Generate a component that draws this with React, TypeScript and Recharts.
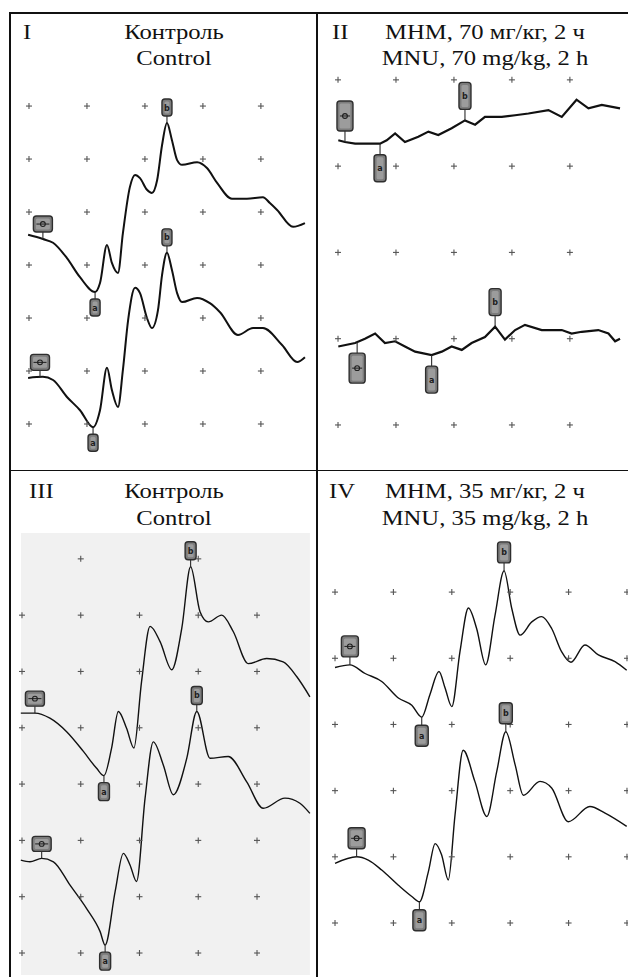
import { ComposedChart, Line, Scatter, XAxis, YAxis, ReferenceArea } from "recharts";

type Pt = [number, number];
type Mark = { t: number; v: number; label: "0" | "a" | "b"; side: "up" | "down" };

// time in ms (20 ms per grid step), amplitude in µV
const p1Upper: Pt[] = [
  [-0.3, 357], [4.8, 349], [8.3, 342], [13.1, 313], [17.6, 277], [22.8, 249], [24.5, 266], [26.9, 338],
  [28.6, 304], [30.7, 285], [32.4, 360], [34.8, 447], [36.6, 470], [38.3, 464], [40.7, 442], [42.4, 436],
  [44.2, 460], [45.9, 526], [47.6, 568], [49.3, 536], [51.1, 498], [52.8, 489], [58.0, 494], [61.4, 483],
  [64.9, 455], [70.0, 425], [75.2, 425], [80.7, 428], [83.1, 417], [85.6, 404], [91.1, 372], [95.2, 379],
];
const p1Lower: Pt[] = [
  [-0.3, 87], [4.8, 89], [8.3, 83], [13.1, 51], [17.6, 26], [22.1, -6], [24.5, 26], [26.9, 106],
  [28.6, 64], [30.7, 32], [32.4, 102], [34.2, 196], [36.6, 257], [38.3, 247], [40.7, 200], [42.4, 181],
  [44.5, 215], [45.9, 281], [47.6, 323], [49.3, 291], [51.1, 247], [52.8, 230], [58.0, 238], [62.4, 228],
  [65.9, 211], [72.1, 168], [77.3, 181], [80.7, 181], [87.3, 149], [92.5, 117], [95.2, 126],
];
const p2Upper: Pt[] = [
  [0.1, 330], [2.4, 328], [5.9, 326], [9.3, 326], [14.5, 326], [16.8, 330], [19.7, 338], [23.1, 328],
  [27.7, 334], [31.2, 340], [34.6, 336], [39.2, 344], [43.8, 353], [47.3, 348], [50.7, 357], [56.5, 357],
  [61.1, 359], [65.7, 361], [72.6, 365], [77.2, 357], [82.3, 377], [86.4, 367], [91.0, 371], [97.3, 367],
];
const p2Lower: Pt[] = [
  [0.1, 91], [5.9, 95], [9.3, 100], [12.8, 106], [16.2, 95], [19.7, 97], [23.1, 91], [26.6, 85],
  [32.3, 81], [35.8, 85], [39.2, 91], [42.7, 87], [46.1, 95], [50.7, 102], [54.2, 114], [57.6, 99],
  [61.1, 110], [64.5, 116], [70.3, 110], [77.2, 110], [80.6, 106], [84.1, 108], [89.8, 110], [93.3, 106],
  [95.6, 97], [97.3, 100],
];
const p3Upper: Pt[] = [
  [-0.4, 426], [4.4, 426], [9.5, 417], [15.2, 393], [20.9, 358], [25.4, 328], [27.9, 315], [30.5, 364],
  [32.8, 429], [35.6, 399], [38.1, 364], [40.7, 482], [43.6, 580], [47.0, 553], [51.0, 503], [54.4, 577],
  [57.4, 686], [60.6, 606], [63.4, 588], [68.0, 600], [71.9, 571], [77.0, 514], [83.3, 523], [88.9, 517],
  [93.5, 491], [98.0, 455],
];
const p3Lower: Pt[] = [
  [-0.4, 165], [2.7, 162], [6.7, 168], [10.7, 162], [16.3, 121], [22.0, 79], [26.6, 38], [28.3, 14],
  [31.7, 109], [34.5, 177], [36.8, 156], [39.0, 127], [41.9, 275], [44.7, 375], [48.1, 334], [51.5, 281],
  [56.1, 346], [59.5, 429], [64.0, 346], [70.2, 349], [76.5, 304], [82.1, 257], [89.5, 275], [94.6, 266],
  [98.0, 248],
];
const p4Upper: Pt[] = [
  [0, 386], [5.1, 390], [10.3, 377], [16.0, 365], [21.7, 340], [26.3, 329], [29.7, 311], [32.5, 345],
  [35.6, 380], [37.7, 355], [40.0, 327], [42.8, 410], [45.7, 476], [48.5, 445], [51.6, 390], [54.8, 465],
  [57.9, 532], [60.5, 476], [63.4, 435], [67.4, 455], [70.8, 463], [74.2, 445], [77.6, 410], [80.8, 394],
  [85.6, 420], [90.2, 405], [95.9, 395], [99.9, 382],
];
const p4Lower: Pt[] = [
  [0, 90], [7.4, 100], [11.4, 95], [16.0, 80], [21.7, 57], [26.3, 40], [28.9, 32], [32.0, 78],
  [34.3, 120], [36.5, 103], [38.8, 65], [41.1, 163], [43.9, 261], [47.9, 214], [52.0, 161], [55.4, 229],
  [58.5, 289], [61.7, 239], [64.5, 193], [70.2, 214], [74.2, 204], [79.9, 153], [87.3, 176], [92.5, 166],
  [99.9, 146],
];

const p1Marks: Mark[] = [
  { t: 4.8, v: 349, label: "0", side: "up" },
  { t: 22.8, v: 249, label: "a", side: "down" },
  { t: 47.6, v: 568, label: "b", side: "up" },
  { t: 3.8, v: 88, label: "0", side: "up" },
  { t: 22.1, v: -6, label: "a", side: "down" },
  { t: 47.6, v: 323, label: "b", side: "up" },
];
const p2Marks: Mark[] = [
  { t: 2.4, v: 328, label: "0", side: "up" },
  { t: 14.5, v: 326, label: "a", side: "down" },
  { t: 43.8, v: 353, label: "b", side: "up" },
  { t: 6.6, v: 96, label: "0", side: "down" },
  { t: 32.3, v: 81, label: "a", side: "down" },
  { t: 54.2, v: 114, label: "b", side: "up" },
];
const p3Marks: Mark[] = [
  { t: 4.4, v: 426, label: "0", side: "up" },
  { t: 27.9, v: 315, label: "a", side: "down" },
  { t: 57.4, v: 686, label: "b", side: "up" },
  { t: 6.7, v: 168, label: "0", side: "up" },
  { t: 28.3, v: 14, label: "a", side: "down" },
  { t: 59.5, v: 429, label: "b", side: "up" },
];
const p4Marks: Mark[] = [
  { t: 5.1, v: 390, label: "0", side: "up" },
  { t: 29.7, v: 311, label: "a", side: "down" },
  { t: 57.9, v: 532, label: "b", side: "up" },
  { t: 7.4, v: 100, label: "0", side: "up" },
  { t: 28.9, v: 32, label: "a", side: "down" },
  { t: 58.5, v: 289, label: "b", side: "up" },
];

// grid "+" positions
const p1Cols = [0, 20, 40, 60, 80];
const p1Rows = [0, 100, 200, 300, 400, 500, 600];
const p2Cols = [0, 20, 40, 60, 80];
const p2Rows = [0, 100, 200, 300, 400];
const p3Cols = [0, 20, 40, 60, 80];
const p3Rows = [0, 100, 200, 300, 400, 500, 600];
const p3TopRow = [[20, 700], [60, 700]];
const p4Cols = [0, 20, 40, 60, 80, 100];
const p4Rows = [0, 100, 200, 300, 400, 500];

const titles = {
  ctrlRu: "Контроль",
  ctrlEn: "Control",
  mnu70Ru: "МНМ, 70 мг/кг, 2 ч",
  mnu70En: "MNU, 70 mg/kg, 2 h",
  mnu35Ru: "МНМ, 35 мг/кг, 2 ч",
  mnu35En: "MNU, 35 mg/kg, 2 h",
};

const toRows = (pts: Pt[] | number[][]) => pts.map(([t, v]) => ({ t, v }));
const grid = (cols: number[], rows: number[]) => rows.flatMap((v) => cols.map((t) => ({ t, v })));

type MarkSize = { w: number; h: number; w0: number; h0: number; stem: number };

const makeMarker = (ms: MarkSize) => (props: any) => {
  const { cx, cy, payload } = props;
  if (cx == null || cy == null) return null;
  const zero = payload.label === "0";
  const w = zero ? ms.w0 : ms.w;
  const h = zero ? ms.h0 : ms.h;
  const up = payload.side === "up";
  const stemEnd = up ? cy - ms.stem : cy + ms.stem;
  const y0 = up ? stemEnd - h : stemEnd;
  const my = y0 + h / 2;
  return (
    <g>
      <line x1={cx} y1={cy} x2={cx} y2={stemEnd} stroke="#2a2a2a" strokeWidth={1.1} />
      <rect x={cx - w / 2} y={y0} width={w} height={h} rx={3} fill="#7c7c7c" stroke="#2e2e2e" strokeWidth={1.4} />
      <rect x={cx - w / 2 + 2.5} y={y0 + 2.5} width={w - 5} height={h - 5} rx={1.5} fill="#9c9c9c" />
      {zero ? (
        <g>
          <circle cx={cx} cy={my} r={2.4} fill="none" stroke="#1e1e1e" strokeWidth={1.1} />
          <line x1={cx - w / 2 + 3} y1={my} x2={cx + w / 2 - 3} y2={my} stroke="#1e1e1e" strokeWidth={1} />
        </g>
      ) : (
        <text x={cx} y={my + 3} fontSize={8} fontWeight="bold" textAnchor="middle" fill="#1e1e1e" fontFamily="DejaVu Sans">
          {payload.label}
        </text>
      )}
    </g>
  );
};

const Plus = (props: any) => {
  const { cx, cy } = props;
  if (cx == null || cy == null) return null;
  return (
    <g stroke="#555" strokeWidth={1.1}>
      <line x1={cx - 3} y1={cy} x2={cx + 3} y2={cy} />
      <line x1={cx} y1={cy - 3} x2={cx} y2={cy + 3} />
    </g>
  );
};

type PanelCfg = {
  left: number;
  top: number;
  width: number;
  height: number;
  xDomain: [number, number];
  yDomain: [number, number];
  traces: Pt[][];
  marks: Mark[];
  grid: { t: number; v: number }[];
  curve: "monotone" | "linear";
  strokeWidth: number;
  markSize: MarkSize;
  shade?: { x1: number; x2: number; y1: number; y2: number };
};

function Panel({ cfg }: { cfg: PanelCfg }) {
  return (
    <div style={{ position: "absolute", left: cfg.left, top: cfg.top }}>
      <ComposedChart width={cfg.width} height={cfg.height} margin={{ top: 0, right: 0, bottom: 0, left: 0 }}>
        <XAxis type="number" dataKey="t" domain={cfg.xDomain} hide allowDataOverflow />
        <YAxis type="number" dataKey="v" domain={cfg.yDomain} hide allowDataOverflow />
        {cfg.shade && (
          <ReferenceArea
            x1={cfg.shade.x1}
            x2={cfg.shade.x2}
            y1={cfg.shade.y1}
            y2={cfg.shade.y2}
            fill="#f1f1f1"
            fillOpacity={1}
            stroke="none"
            ifOverflow="visible"
          />
        )}
        <Scatter data={cfg.grid} shape={Plus} isAnimationActive={false} />
        {cfg.traces.map((tr, i) => (
          <Line
            key={i}
            data={toRows(tr)}
            dataKey="v"
            type={cfg.curve}
            stroke="#111"
            strokeWidth={cfg.strokeWidth}
            dot={false}
            isAnimationActive={false}
          />
        ))}
        <Scatter data={cfg.marks} shape={makeMarker(cfg.markSize)} isAnimationActive={false} />
      </ComposedChart>
    </div>
  );
}

const panels: PanelCfg[] = [
  {
    left: 10, top: 13, width: 307, height: 457,
    xDomain: [-6.55, 99.36], yDomain: [-86.8, 775.6],
    traces: [p1Upper, p1Lower], marks: p1Marks, grid: grid(p1Cols, p1Rows),
    curve: "monotone", strokeWidth: 2,
    markSize: { w: 10, h: 17, w0: 19, h0: 16, stem: 7 },
  },
  {
    left: 317, top: 13, width: 311, height: 457,
    xDomain: [-7.25, 100.05], yDomain: [-52.2, 477.5],
    traces: [p2Upper, p2Lower], marks: p2Marks, grid: grid(p2Cols, p2Rows),
    curve: "linear", strokeWidth: 2.2,
    markSize: { w: 12, h: 27, w0: 16, h0: 30, stem: 11 },
  },
  {
    left: 10, top: 470, width: 307, height: 507,
    xDomain: [-4.08, 100.42], yDomain: [-42.6, 857.8],
    traces: [p3Upper, p3Lower], marks: p3Marks,
    grid: [...grid(p3Cols, p3Rows), ...toRows(p3TopRow)],
    curve: "monotone", strokeWidth: 1.4,
    markSize: { w: 11, h: 18, w0: 19, h0: 15, stem: 7 },
    shade: { x1: -0.34, x2: 98.0, y1: -39, y2: 746 },
  },
  {
    left: 317, top: 470, width: 311, height: 507,
    xDomain: [-6.17, 100.35], yDomain: [-81.6, 684.5],
    traces: [p4Upper, p4Lower], marks: p4Marks, grid: grid(p4Cols, p4Rows),
    curve: "monotone", strokeWidth: 1.4,
    markSize: { w: 13, h: 21, w0: 17, h0: 21, stem: 8 },
  },
];

const textStyle = {
  position: "absolute" as const,
  fontFamily: "'Liberation Serif', 'Times New Roman', 'DejaVu Serif', serif",
  fontSize: 22,
  lineHeight: "22px",
  color: "#111",
  whiteSpace: "nowrap" as const,
};

function Caption({ x, y, text, center }: { x: number; y: number; text: string; center?: boolean }) {
  // y is the baseline; glyphs are a little wider in the source figure
  const top = y - 18.5;
  if (center) {
    return (
      <div style={{ ...textStyle, left: x - 150, top, width: 300, textAlign: "center", transform: "scaleX(1.12)", transformOrigin: "50% 50%" }}>
        {text}
      </div>
    );
  }
  return <div style={{ ...textStyle, left: x, top, transform: "scaleX(1.12)", transformOrigin: "0 50%" }}>{text}</div>;
}

export default function App() {
  return (
    <div style={{ position: "absolute", left: 0, top: 0, width: 628, height: 977, background: "#fff", overflow: "hidden" }}>
      {panels.map((p, i) => (
        <Panel key={i} cfg={p} />
      ))}
      {/* table rules */}
      <div style={{ position: "absolute", left: 9.5, top: 12, width: 620, height: 1.6, background: "#111" }} />
      <div style={{ position: "absolute", left: 9.5, top: 469.5, width: 620, height: 1.6, background: "#111" }} />
      <div style={{ position: "absolute", left: 9.3, top: 12, width: 1.6, height: 965, background: "#111" }} />
      <div style={{ position: "absolute", left: 316.3, top: 12, width: 1.6, height: 965, background: "#111" }} />

      <Caption x={23} y={39} text="I" />
      <Caption x={174} y={39} text={titles.ctrlRu} center />
      <Caption x={174} y={65} text={titles.ctrlEn} center />

      <Caption x={332} y={39} text="II" />
      <Caption x={485} y={39} text={titles.mnu70Ru} center />
      <Caption x={485} y={65} text={titles.mnu70En} center />

      <Caption x={29} y={498} text="III" />
      <Caption x={174} y={498} text={titles.ctrlRu} center />
      <Caption x={174} y={525} text={titles.ctrlEn} center />

      <Caption x={329} y={498} text="IV" />
      <Caption x={485} y={498} text={titles.mnu35Ru} center />
      <Caption x={485} y={525} text={titles.mnu35En} center />
    </div>
  );
}
